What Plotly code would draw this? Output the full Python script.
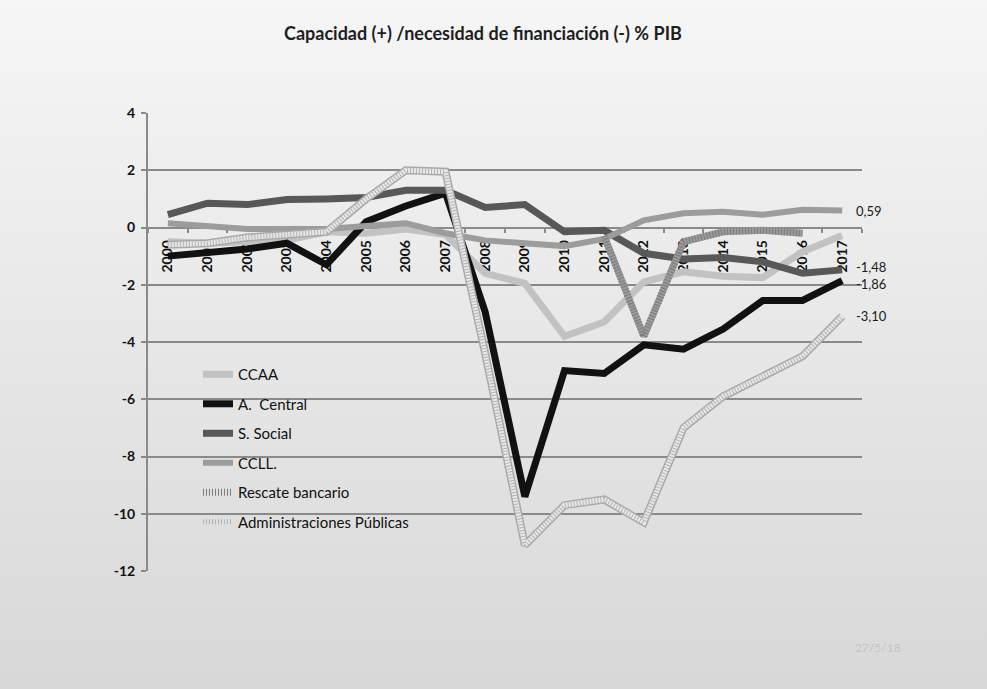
import base64
import plotly.graph_objects as go

# Capacidad (+) / necesidad (-) de financiación por subsector, % del PIB
years = ["2000", "2001", "2002", "2003", "2004", "2005", "2006", "2007", "2008",
         "2009", "2010", "2011", "2012", "2013", "2014", "2015", "2016", "2017"]

ccaa = [-0.5, -0.55, -0.5, -0.45, -0.15, -0.2, -0.05, -0.25, -1.6,
        -1.95, -3.8, -3.3, -1.9, -1.55, -1.7, -1.75, -0.85, -0.28]
central = [-1.0, -0.88, -0.75, -0.55, -1.3, 0.2, 0.75, 1.2, -2.95,
           -9.4, -5.0, -5.1, -4.1, -4.25, -3.55, -2.55, -2.55, -1.86]
social = [0.45, 0.85, 0.8, 0.98, 1.0, 1.05, 1.3, 1.3, 0.7,
          0.8, -0.15, -0.1, -0.9, -1.1, -1.05, -1.2, -1.6, -1.48]
ccll = [0.15, 0.05, -0.05, -0.05, -0.05, 0.05, 0.15, -0.2, -0.45,
        -0.55, -0.65, -0.4, 0.25, 0.5, 0.55, 0.45, 0.62, 0.59]
rescate = [None, None, None, None, None, None, None, None, None,
           None, None, -0.3, -3.8, -0.5, -0.15, -0.1, -0.2, None]
aapp = [-0.6, -0.55, -0.35, -0.25, -0.15, 1.0, 2.0, 1.95, -4.4,
        -11.1, -9.7, -9.5, -10.3, -7.0, -5.9, -5.2, -4.5, -3.1]

y_ticks = [4, 2, 0, -2, -4, -6, -8, -10, -12]

FONT = "Lato"
GRID = "#8a8a8a"

fig = go.Figure()


def solid(name, values, color, width, rank):
    fig.add_trace(go.Scatter(
        x=years, y=values, name=name, mode="lines",
        line=dict(color=color, width=width),
        legendgroup=name, legendrank=rank,
    ))


def layer(name, values, color, width, dash="solid", legend=False, rank=None):
    fig.add_trace(go.Scatter(
        x=years, y=values, name=name, mode="lines",
        line=dict(color=color, width=width, dash=dash),
        legendgroup=name, showlegend=legend, legendrank=rank or 1000,
        hoverinfo="skip" if not legend else None,
    ))


solid("CCAA", ccaa, "#c2c2c2", 7, 1)
solid("A.  Central", central, "#111111", 7, 2)
solid("S. Social", social, "#585858", 7, 3)
solid("CCLL.", ccll, "#9c9c9c", 6, 4)

# textured lines: solid base plus a fine striped dash on top
layer("Rescate bancario", rescate, "#9a9a9a", 7)
layer("Rescate bancario", rescate, "#7c7c7c", 7, "1px,2px", True, 5)

layer("Administraciones Públicas", aapp, "#a9a9a9", 8)
layer("Administraciones Públicas", aapp, "#e8e8e8", 5)
layer("Administraciones Públicas", aapp, "#b2b2b2", 5, "1px,2px", True, 6)

# end-of-series value labels (the two close ones are nudged apart)
for vals, shift in ((ccll, 0), (social, 3), (central, -3), (aapp, 0)):
    v = vals[-1]
    fig.add_annotation(
        x=len(years) - 1, y=v, text=f"{v:.2f}".replace(".", ","),
        xref="x", yref="y", xanchor="left", yanchor="middle",
        xshift=12, yshift=shift, showarrow=False,
        font=dict(family=FONT, size=13, color="#1a1a1a"),
    )

fig.add_annotation(
    x=0.469, y=1.1747, xref="paper", yref="paper",
    xanchor="center", yanchor="middle",
    text="<b>Capacidad (+) /necesidad de financiación (-) % PIB</b>",
    showarrow=False,
    font=dict(family=FONT, size=18, color="#1e1e1e"),
)
fig.add_annotation(
    x=1.022, y=-0.168, xref="paper", yref="paper",
    xanchor="center", yanchor="middle",
    text="27/5/18", showarrow=False,
    font=dict(family=FONT, size=12, color="#c4c4c4"),
)

# soft vertical gradient for the page background
svg = (
    '<svg xmlns="http://www.w3.org/2000/svg" width="100" height="100" preserveAspectRatio="none">'
    '<defs><linearGradient id="g" x1="0" y1="0" x2="0" y2="1">'
    '<stop offset="0" stop-color="#f6f6f6"/><stop offset="1" stop-color="#d8d8d8"/>'
    '</linearGradient></defs><rect width="100" height="100" fill="url(#g)"/></svg>'
)
bg = "data:image/svg+xml;base64," + base64.b64encode(svg.encode()).decode()

W, H = 987, 689
L, R, T, B = 148, 125, 113, 118
pw, ph = W - L - R, H - T - B

fig.add_layout_image(
    source=bg, xref="paper", yref="paper",
    x=-L / pw, y=1 + T / ph, sizex=W / pw, sizey=H / ph,
    xanchor="left", yanchor="top", sizing="stretch", layer="below",
)

fig.update_layout(
    width=W, height=H,
    margin=dict(l=L, r=R, t=T, b=B, pad=0),
    paper_bgcolor="#e6e6e6", plot_bgcolor="rgba(0,0,0,0)",
    font=dict(family=FONT, color="#1a1a1a"),
    showlegend=True,
    legend=dict(
        x=0.07, y=0.465, xanchor="left", yanchor="top",
        bgcolor="rgba(0,0,0,0)", tracegroupgap=7,
        font=dict(family=FONT, size=15, color="#111111"),
        itemwidth=30,
    ),
)

fig.update_xaxes(
    type="category", range=[-0.5, len(years) - 0.5],
    anchor="free", position=12 / 16,
    showgrid=False, zeroline=False,
    showline=True, linecolor=GRID, linewidth=2,
    ticks="outside", tickson="boundaries", ticklen=4, tickcolor=GRID, tickwidth=2,
    tickangle=-90, layer="below traces", ticklabelstandoff=6,
    tickvals=years, ticktext=[f"<b>{y}</b>" for y in years],
    tickfont=dict(family=FONT, size=14, color="#111111"),
)
fig.update_yaxes(
    range=[-12, 4], tickvals=y_ticks, ticktext=[f"<b>{t}</b>" for t in y_ticks],
    showgrid=True, gridcolor=GRID, gridwidth=2,
    zeroline=False,
    showline=True, linecolor=GRID, linewidth=2,
    ticks="outside", ticklen=5, tickcolor=GRID, tickwidth=2,
    tickfont=dict(family=FONT, size=14, color="#111111"),
    ticklabelstandoff=3,
    layer="below traces",
)

fig.write_html("out.html")
